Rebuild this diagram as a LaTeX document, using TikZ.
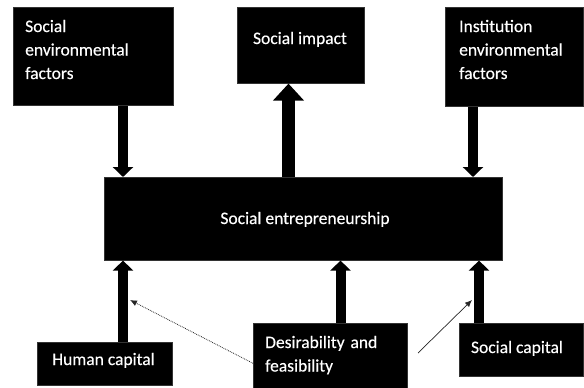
\documentclass[tikz,border=0pt]{standalone}
\usepackage{fontspec}
\setmainfont{Carlito}
\newfontfamily\lblfont{Carlito}[FakeBold=0.35]
\usetikzlibrary{arrows.meta}
\begin{document}
\begin{tikzpicture}[x=1pt,y=-1pt,
  box/.style={draw=black!80,fill=black,line width=0.6pt,inner sep=0pt,anchor=north west},
  lbl/.style={text=white,inner sep=0pt,font=\lblfont\fontsize{17.5}{23.5}\selectfont},
  bigarrow/.style={line width=10pt,-{Triangle[width=20pt,length=10pt]}},
  widearrow/.style={line width=13pt,-{Triangle[width=30pt,length=17pt]}},
  dotarrow/.style={densely dotted,line width=0.8pt,draw=black!85,-{Latex[length=7pt,width=6pt]}},
  thinarrow/.style={line width=0.7pt,draw=black!85,-{Latex[length=7pt,width=6pt]}}]
\useasboundingbox (0,0) rectangle (584,388);

% boxes
\node[box,minimum width=160pt,minimum height=98pt] (sef) at (13,7) {};
\node[box,minimum width=127pt,minimum height=76pt] (imp) at (237,7) {};
\node[box,minimum width=138pt,minimum height=99pt] (ief) at (445,7) {};
\node[box,minimum width=398pt,minimum height=83pt] (se) at (104,177) {};
\node[box,minimum width=135pt,minimum height=43pt] (hc) at (37,342) {};
\node[box,minimum width=154pt,minimum height=65pt] (df) at (253,323) {};
\node[box,minimum width=124pt,minimum height=53pt] (sc) at (459,323) {};

% labels
\node[lbl,anchor=base west,text width=145pt,align=left] (sefText) at (25,32)
  {Social\\environmental\\factors};
\node[lbl,anchor=base] (impText) at (300,44) {Social impact};
\node[lbl,anchor=base west,text width=125pt,align=left] (iefText) at (459,32)
  {Institution\\environmental\\factors};
\node[lbl,anchor=base] (seText) at (305,224) {Social entrepreneurship};
\node[lbl,anchor=base] (hcText) at (103.5,365) {Human capital};
\node[lbl,anchor=base west,text width=140pt,align=left] (dfText) at (265,348)
  {Desirability and\\feasibility};
\node[lbl,anchor=base] (scText) at (517,353) {Social capital};

% columns of the block arrows
\coordinate (xa) at (123,0);
\coordinate (xb) at (288.5,0);
\coordinate (xc) at (473,0);
\coordinate (xd) at (340.5,0);
\coordinate (xe) at (479,0);

\draw[bigarrow] (sef.south -| xa) -- (se.north -| xa);
\draw[widearrow] (se.north -| xb) -- (imp.south -| xb);
\draw[bigarrow] (ief.south -| xc) -- (se.north -| xc);
\draw[bigarrow] (hc.north -| xa) -- (se.south -| xa);
\draw[bigarrow] (df.north -| xd) -- (se.south -| xd);
\draw[bigarrow] (sc.north -| xe) -- (se.south -| xe);

% thin pointers onto the shafts
\coordinate (hcTip) at (130,300);
\coordinate (scFrom) at (418,353);
\coordinate (scTip) at (472,300);
\draw[dotarrow] ([yshift=-7.5pt]df.west) -- (hcTip);
\draw[thinarrow] (scFrom) -- (scTip);
\end{tikzpicture}
\end{document}
